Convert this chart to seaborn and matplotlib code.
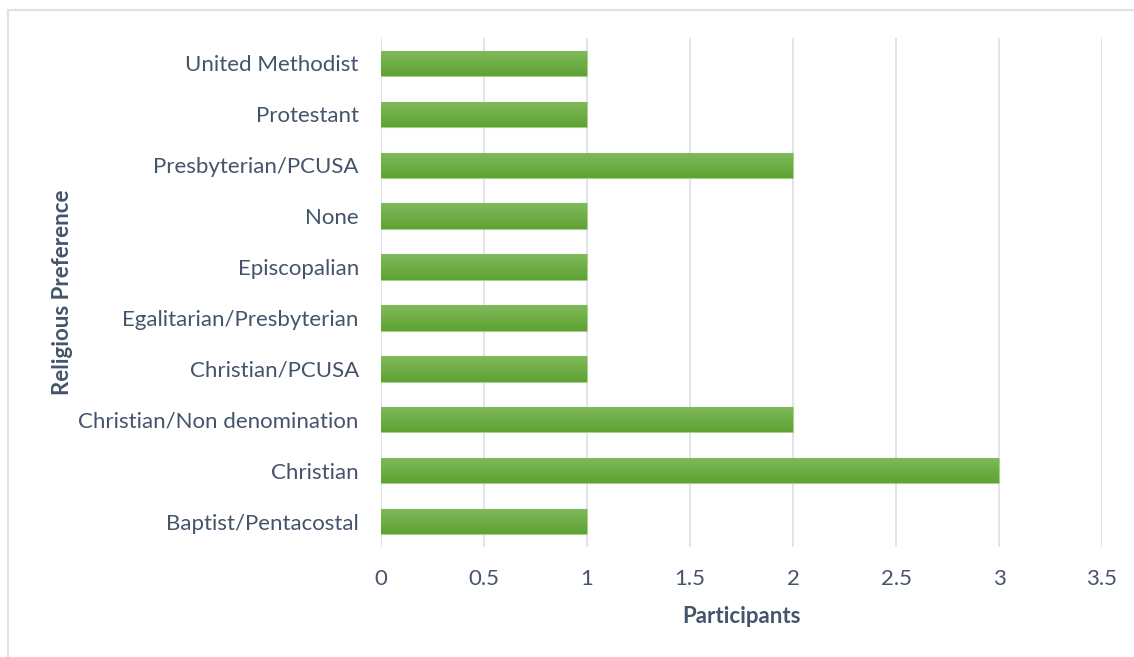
import numpy as np
import pandas as pd
import matplotlib
matplotlib.use("Agg")
import matplotlib.pyplot as plt
import seaborn as sns
from matplotlib.colors import LinearSegmentedColormap
from matplotlib.lines import Line2D

categories = [
    "United Methodist",
    "Protestant",
    "Presbyterian/PCUSA",
    "None",
    "Episcopalian",
    "Egalitarian/Presbyterian",
    "Christian/PCUSA",
    "Christian/Non denomination",
    "Christian",
    "Baptist/Pentacostal",
]
participants = [1, 1, 2, 1, 1, 1, 1, 2, 3, 1]
x_ticks = [0, 0.5, 1, 1.5, 2, 2.5, 3, 3.5]
x_tick_labels = ["0", "0.5", "1", "1.5", "2", "2.5", "3", "3.5"]

df = pd.DataFrame({"Religious Preference": categories, "Participants": participants})

sns.set_theme(style="white")
plt.rcParams["font.family"] = ["Lato", "DejaVu Sans"]

TEXT = "#44546A"
GRID = "#DEE2E8"
TOP_GREEN = "#80BA5C"
BOTTOM_GREEN = "#5FA233"
FS = 16

fig = plt.figure(figsize=(11.34, 6.57), dpi=100)
ax = fig.add_axes([381 / 1134, 1 - 547 / 657, (1102 - 381) / 1134, (547 - 38) / 657])

sns.barplot(data=df, x="Participants", y="Religious Preference", order=categories,
            color=BOTTOM_GREEN, width=0.5, ax=ax, saturation=1,
            edgecolor="#A9D18E", linewidth=0.8)

# vertical gradient fill on each bar
cmap = LinearSegmentedColormap.from_list("bar", [TOP_GREEN, BOTTOM_GREEN])
grad = np.linspace(0, 1, 64).reshape(-1, 1)
for p in ax.patches:
    x0, y0 = p.get_x(), p.get_y()
    w, h = p.get_width(), p.get_height()
    im = ax.imshow(grad, cmap=cmap, aspect="auto", origin="upper",
                   extent=(x0, x0 + w, y0 + h, y0), zorder=p.get_zorder() + 0.1)
    im.set_clip_path(p)

ax.set_xlim(0, 3.5)
ax.set_ylim(9.5, -0.5)
ax.set_xticks(x_ticks)
ax.set_xticklabels(x_tick_labels)
ax.xaxis.grid(True, color=GRID, linewidth=1.3)
ax.set_axisbelow(True)
for s in ax.spines.values():
    s.set_visible(False)

ax.tick_params(axis="both", length=0, labelsize=FS, labelcolor=TEXT)
ax.tick_params(axis="y", pad=16)
ax.tick_params(axis="x", pad=16)

ax.set_xlabel("Participants", fontsize=FS, fontweight="bold", color=TEXT, labelpad=12)
ax.set_ylabel("Religious Preference", fontsize=FS, fontweight="bold", color=TEXT)
ax.yaxis.set_label_coords(-(381 - 73) / (1102 - 381), 0.5)

# chart frame
fig.add_artist(Line2D([8 / 1134, 8 / 1134], [0, 1 - 10 / 657], transform=fig.transFigure,
                      color=GRID, linewidth=1.5))
fig.add_artist(Line2D([8 / 1134, 1], [1 - 10 / 657, 1 - 10 / 657], transform=fig.transFigure,
                      color=GRID, linewidth=1.5))

fig.savefig("out.png", dpi=100, facecolor="white")
